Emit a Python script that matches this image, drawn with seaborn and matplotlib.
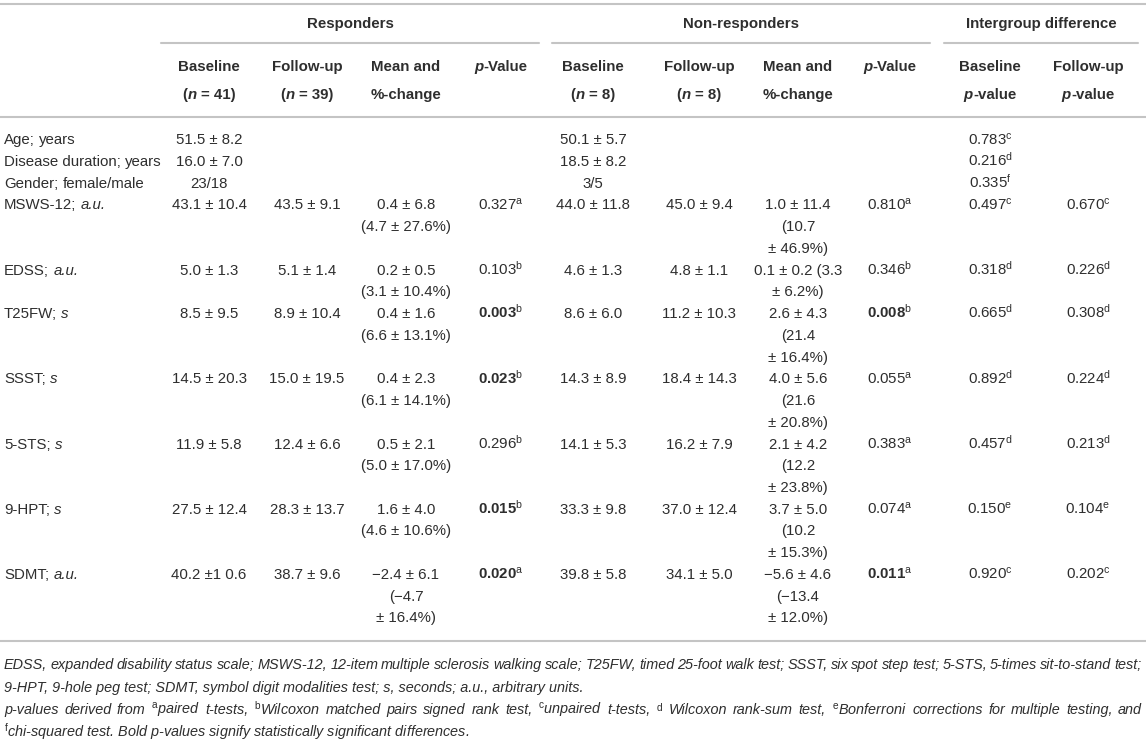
import matplotlib
matplotlib.use("Agg")
import matplotlib.pyplot as plt
import seaborn as sns

# Table content
row_names = ["Age", "Disease duration", "Gender", "MSWS-12", "EDSS", "T25FW",
             "SSST", "5-STS", "9-HPT", "SDMT"]
row_units = ["years", "years", "female/male", "a.u.", "a.u.", "s", "s", "s", "s", "a.u."]
unit_italic = [False, False, False, True, True, True, True, True, True, True]

resp_base = ["51.5 ± 8.2", "16.0 ± 7.0", "23/18", "43.1 ± 10.4", "5.0 ± 1.3", "8.5 ± 9.5",
             "14.5 ± 20.3", "11.9 ± 5.8", "27.5 ± 12.4", "40.2 ±1 0.6"]
resp_follow = ["", "", "", "43.5 ± 9.1", "5.1 ± 1.4", "8.9 ± 10.4", "15.0 ± 19.5",
               "12.4 ± 6.6", "28.3 ± 13.7", "38.7 ± 9.6"]
resp_change = ["", "", "", "0.4 ± 6.8\n(4.7 ± 27.6%)", "0.2 ± 0.5\n(3.1 ± 10.4%)",
               "0.4 ± 1.6\n(6.6 ± 13.1%)", "0.4 ± 2.3\n(6.1 ± 14.1%)",
               "0.5 ± 2.1\n(5.0 ± 17.0%)", "1.6 ± 4.0\n(4.6 ± 10.6%)",
               "−2.4 ± 6.1\n(−4.7\n± 16.4%)"]
resp_p = ["", "", "", "0.327", "0.103", "0.003", "0.023", "0.296", "0.015", "0.020"]
resp_p_test = ["", "", "", "a", "b", "b", "b", "b", "b", "a"]
resp_p_bold = [False, False, False, False, False, True, True, False, True, True]

nonresp_base = ["50.1 ± 5.7", "18.5 ± 8.2", "3/5", "44.0 ± 11.8", "4.6 ± 1.3", "8.6 ± 6.0",
                "14.3 ± 8.9", "14.1 ± 5.3", "33.3 ± 9.8", "39.8 ± 5.8"]
nonresp_follow = ["", "", "", "45.0 ± 9.4", "4.8 ± 1.1", "11.2 ± 10.3", "18.4 ± 14.3",
                  "16.2 ± 7.9", "37.0 ± 12.4", "34.1 ± 5.0"]
nonresp_change = ["", "", "", "1.0 ± 11.4\n(10.7\n± 46.9%)", "0.1 ± 0.2 (3.3\n± 6.2%)",
                  "2.6 ± 4.3\n(21.4\n± 16.4%)", "4.0 ± 5.6\n(21.6\n± 20.8%)",
                  "2.1 ± 4.2\n(12.2\n± 23.8%)", "3.7 ± 5.0\n(10.2\n± 15.3%)",
                  "−5.6 ± 4.6\n(−13.4\n± 12.0%)"]
nonresp_p = ["", "", "", "0.810", "0.346", "0.008", "0.055", "0.383", "0.074", "0.011"]
nonresp_p_test = ["", "", "", "a", "b", "b", "a", "a", "a", "a"]
nonresp_p_bold = [False, False, False, False, False, True, False, False, False, True]

inter_base = ["0.783", "0.216", "0.335", "0.497", "0.318", "0.665", "0.892", "0.457", "0.150", "0.920"]
inter_base_test = ["c", "d", "f", "c", "d", "d", "d", "d", "e", "c"]
inter_follow = ["", "", "", "0.670", "0.226", "0.308", "0.224", "0.213", "0.104", "0.202"]
inter_follow_test = ["", "", "", "c", "d", "d", "d", "d", "e", "c"]

group_labels = ["Responders", "Non-responders", "Intergroup difference"]
# header cells: list of (text, italic) pieces per line
col_headers = [
    ([("Baseline", False)], [("(", False), ("n", True), (" = 41)", False)]),
    ([("Follow-up", False)], [("(", False), ("n", True), (" = 39)", False)]),
    ([("Mean and", False)], [("%-change", False)]),
    ([("p", True), ("-Value", False)], []),
    ([("Baseline", False)], [("(", False), ("n", True), (" = 8)", False)]),
    ([("Follow-up", False)], [("(", False), ("n", True), (" = 8)", False)]),
    ([("Mean and", False)], [("%-change", False)]),
    ([("p", True), ("-Value", False)], []),
    ([("Baseline", False)], [("p", True), ("-value", False)]),
    ([("Follow-up", False)], [("p", True), ("-value", False)]),
]

footnotes = [
    "EDSS, expanded disability status scale; MSWS-12, 12-item multiple sclerosis walking scale; "
    "T25FW, timed 25-foot walk test; SSST, six spot step test; 5-STS, 5-times sit-to-stand test;",
    "9-HPT, 9-hole peg test; SDMT, symbol digit modalities test; s, seconds; a.u., arbitrary units.",
    r"p-values derived from $^{\mathrm{a}}$paired t-tests, $^{\mathrm{b}}$Wilcoxon matched pairs signed rank test, "
    r"$^{\mathrm{c}}$unpaired t-tests, $^{\mathrm{d}}$ Wilcoxon rank-sum test, $^{\mathrm{e}}$Bonferroni corrections "
    "for multiple testing, and",
    r"$^{\mathrm{f}}$chi-squared test. Bold p-values signify statistically significant differences.",
]
footnote_justify = [True, False, True, False]

# Style
sns.set_theme(style="white")
plt.rcParams["font.family"] = ["Liberation Sans", "DejaVu Sans"]
plt.rcParams["mathtext.fontset"] = "custom"
plt.rcParams["mathtext.rm"] = "Liberation Sans"
plt.rcParams["mathtext.it"] = "Liberation Sans:italic"
plt.rcParams["mathtext.bf"] = "Liberation Sans:bold"

TXT = "#2e2e2e"
RULE = "#c4c4c4"
FS = 10.8
SP = 0.278 * FS * 100 / 72  # width of a space in px

fig = plt.figure(figsize=(11.46, 7.56), dpi=100)
ax = fig.add_axes([0, 0, 1, 1])
ax.set_xlim(0, 1146)
ax.set_ylim(756, 0)
ax.axis("off")
renderer = fig.canvas.get_renderer()

col_x = [209, 307, 406, 501, 593, 699, 798, 890, 990, 1088]
first_line = 139
step = 21.73
base_off = 5.3


def put(x, yc, s, ha="center", **kw):
    ax.text(x, yc + base_off, s, ha=ha, va="baseline", color=TXT, fontsize=FS, **kw)


def put_rich(x, yc, segs, ha="center", weight="normal"):
    items = []
    for s, it in segs:
        lead = SP if s.startswith(" ") else 0
        t = ax.text(0, yc + base_off, s.strip(), ha="left", va="baseline", color=TXT,
                    fontsize=FS, fontweight=weight, style="italic" if it else "normal")
        items.append((lead, t, t.get_window_extent(renderer).width))
    total = sum(l + w for l, _, w in items)
    cur = x - total / 2 if ha == "center" else x
    for l, t, w in items:
        cur += l
        t.set_x(cur)
        cur += w


# rules
ax.plot([0, 1146], [4, 4], color=RULE, lw=1.5)
ax.plot([0, 1146], [117, 117], color=RULE, lw=1.5)
ax.plot([0, 1146], [641, 641], color=RULE, lw=1.5)
for label, (x0, x1) in zip(group_labels, [(161, 539), (552, 930), (944, 1138)]):
    ax.plot([x0, x1], [43, 43], color=RULE, lw=1.5)
    put((x0 + x1) / 2, 23, label, fontweight="bold")

for x, (h1, h2) in zip(col_x, col_headers):
    put_rich(x, 66, h1, weight="bold")
    if h2:
        put_rich(x, 94, h2, weight="bold")

# body
columns = [resp_base, resp_follow, resp_change, None, nonresp_base, nonresp_follow,
           nonresp_change, None, None, None]
pcols = [(resp_p, resp_p_test, resp_p_bold, col_x[3]),
         (nonresp_p, nonresp_p_test, nonresp_p_bold, col_x[7]),
         (inter_base, inter_base_test, [False] * 10, col_x[8]),
         (inter_follow, inter_follow_test, [False] * 10, col_x[9])]
line = 0
for i, name in enumerate(row_names):
    yc = first_line + step * line
    put_rich(4, yc, [(name + ";", False), (" " + row_units[i], unit_italic[i])], ha="left")
    nlines = 1
    for x, col in zip(col_x, columns):
        if col is None:
            continue
        parts = col[i].split("\n")
        nlines = max(nlines, len(parts))
        for k, part in enumerate(parts):
            if part:
                put(x, yc + step * k, part)
    for vals, tests, bold, x in pcols:
        if vals[i]:
            put(x, yc, vals[i] + r"$^{\mathrm{" + tests[i] + "}}$",
                fontweight="bold" if bold[i] else "normal")
    line += nlines

# footnotes
foot_kw = dict(fontsize=10.4, style="italic", color=TXT, va="baseline",
               family=["Liberation Sans Narrow", "Liberation Sans"])
for j, (note, just) in enumerate(zip(footnotes, footnote_justify)):
    y = 664 + 22.7 * j + 5
    if not just:
        ax.text(4, y, note, ha="left", **foot_kw)
        continue
    words = note.split(" ")
    texts = [ax.text(0, y, w, ha="left", **foot_kw) for w in words]
    widths = [t.get_window_extent(renderer).width for t in texts]
    gap = (1142 - 4 - sum(widths)) / (len(words) - 1)
    x = 4
    for t, w in zip(texts, widths):
        t.set_x(x)
        x += w + gap

fig.savefig("out.png", dpi=100)
